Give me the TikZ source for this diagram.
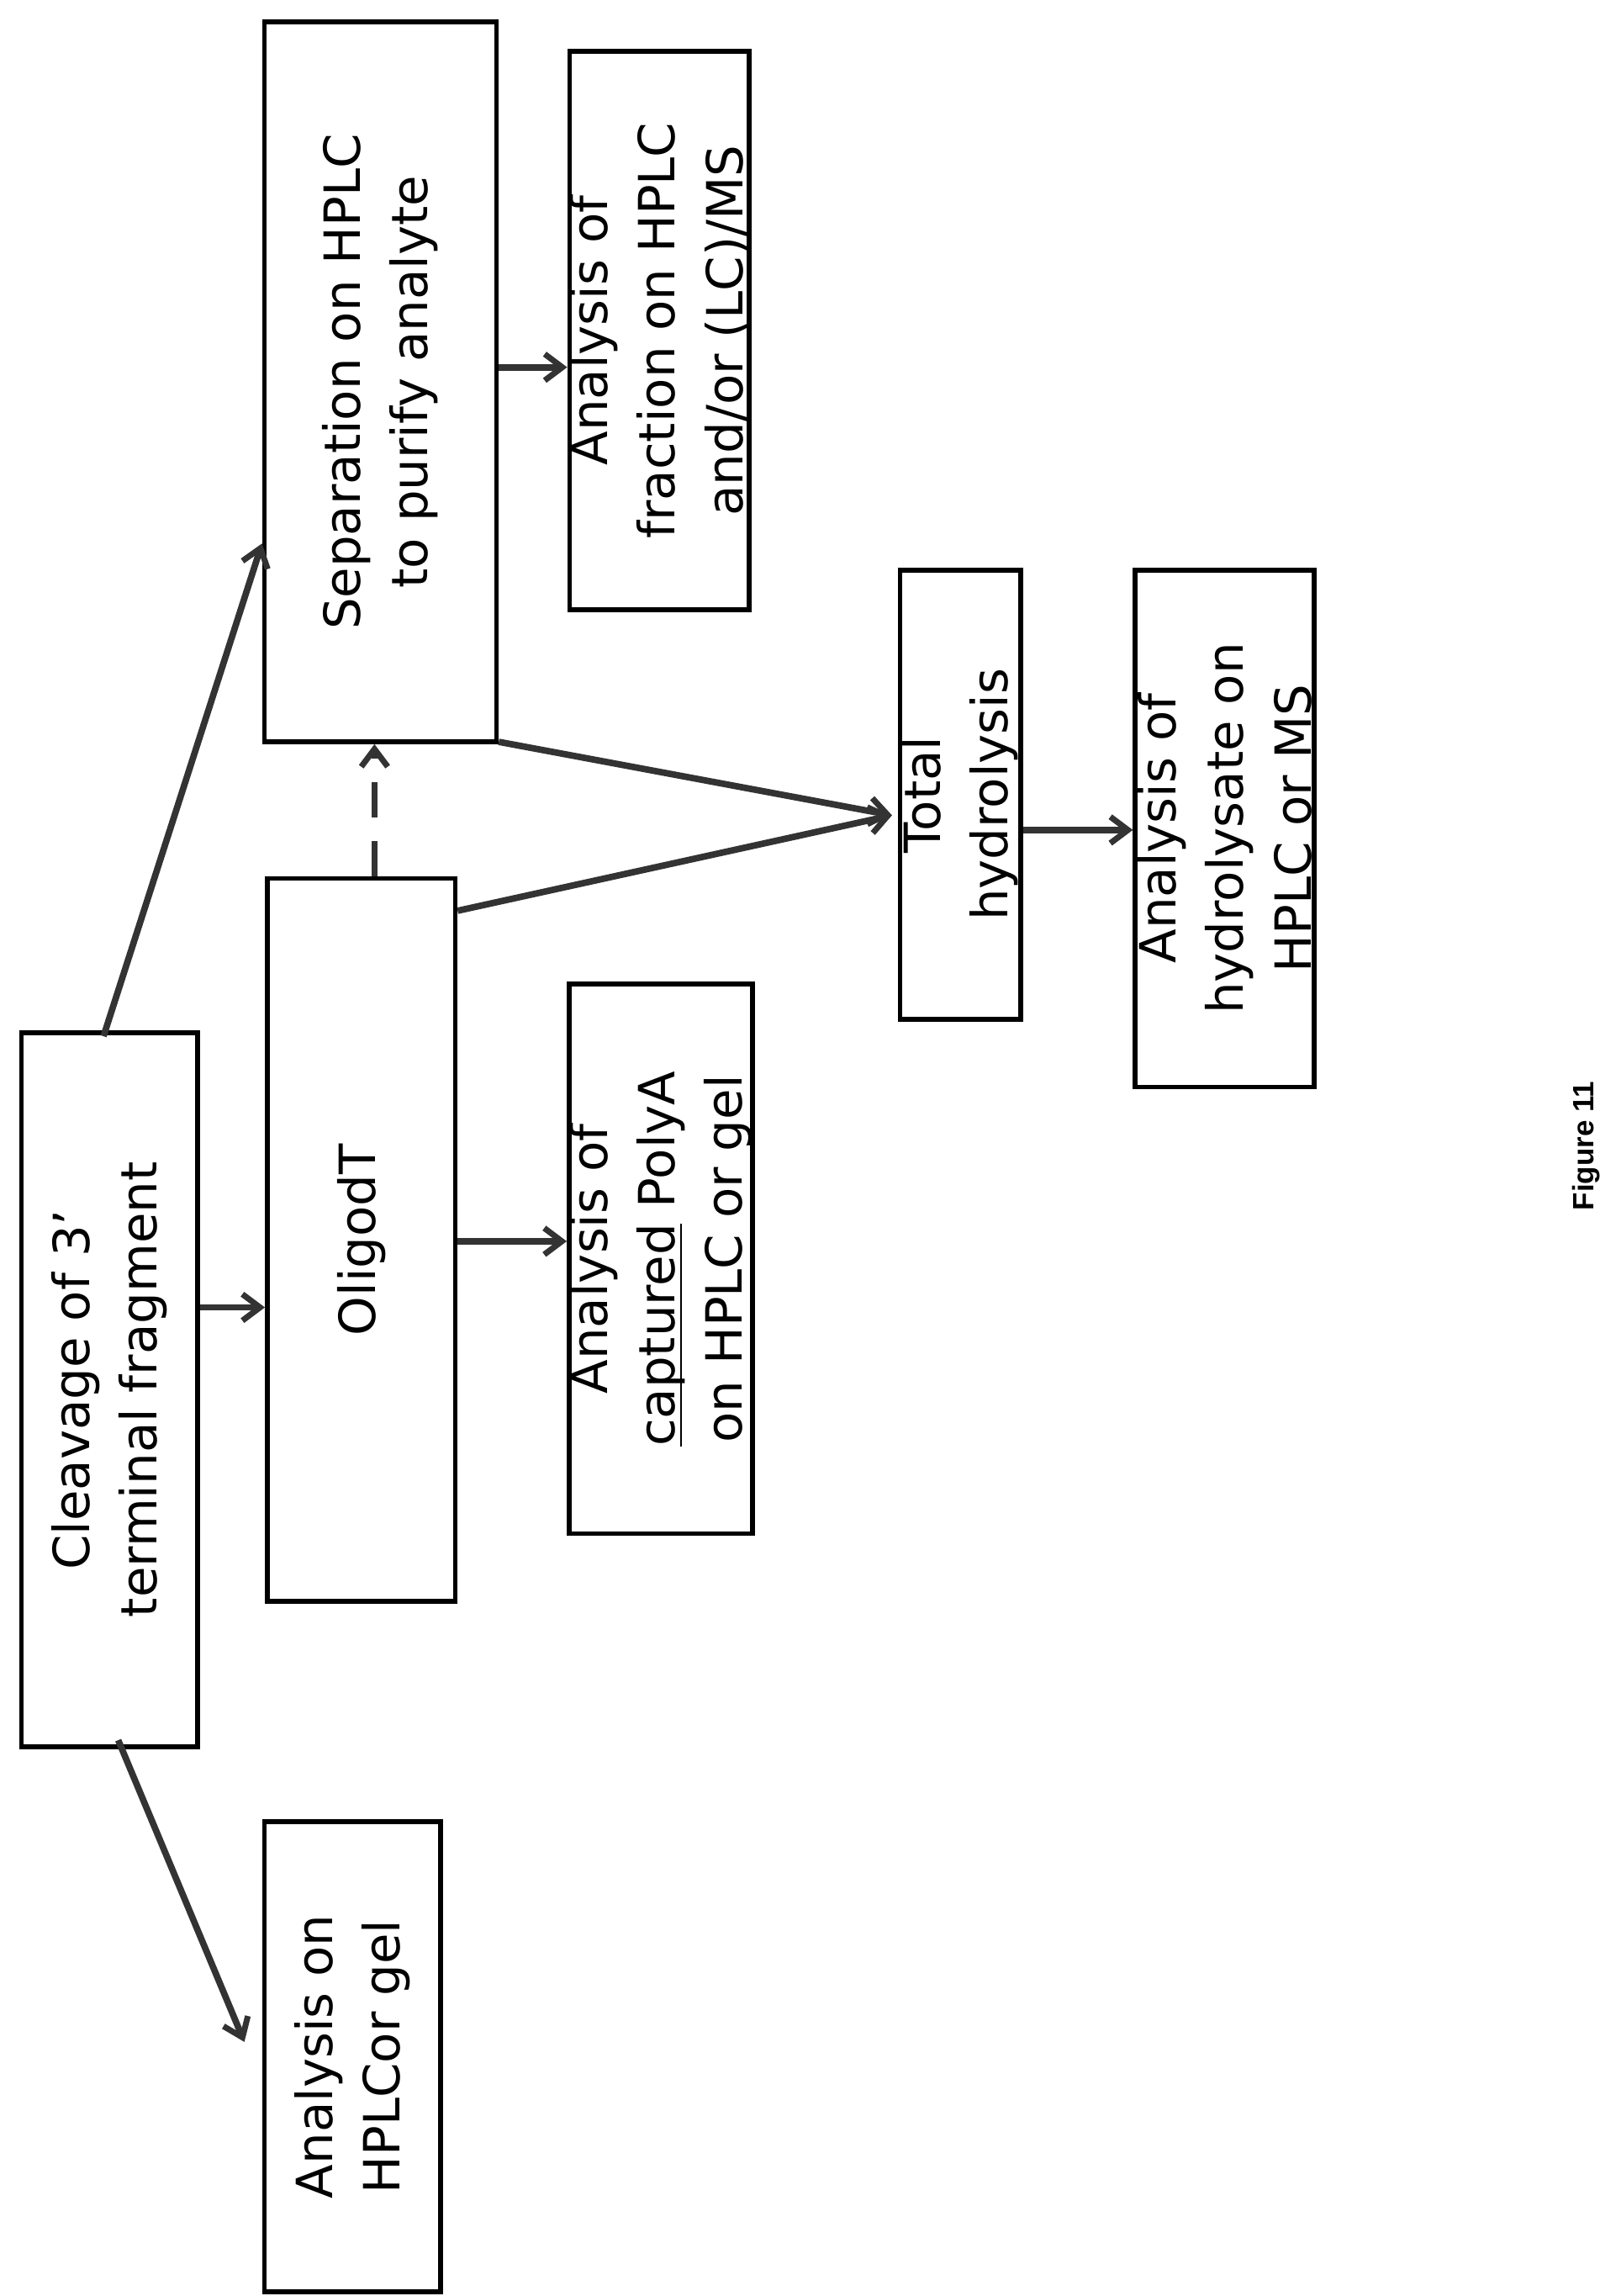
\documentclass[tikz,border=0pt]{standalone}
\usepackage{fontspec}
\setmainfont{DejaVu Sans}
\newfontfamily\figfont{Liberation Sans}
\usetikzlibrary{arrows.meta,calc}
\newcommand\ulword[1]{\setbox0\hbox{#1}\rlap{\rule[-2.5pt]{\wd0}{0.7pt}}#1}
\tikzset{
  box/.style={draw,line width=1.6pt,rotate=90,align=center,inner sep=0pt,
    font=\fontsize{17}{23}\selectfont},
  arr/.style={line width=2.2pt,draw=black!80,-{Straight Barb[length=6pt,width=9pt,line width=2pt]}}
}
\begin{document}
\begin{tikzpicture}[x=0.5pt,y=-0.5pt]
  \useasboundingbox (0,0) rectangle (1100,1563);
  % boxes
  \node[box,minimum width=243pt,minimum height=60pt] (clv) at (74.5,946) {Cleavage of 3'\\terminal fragment};
  \node[box,minimum width=160pt,minimum height=60pt] (gel) at (240,1400) {Analysis on\\HPLCor gel};
  \node[box,minimum width=246pt,minimum height=64pt] (oligo) at (246,844) {OligodT};
  \node[box,minimum width=187pt,minimum height=60pt] (capt) at (450,857) {Analysis of\\\ulword{captured} PolyA\\on HPLC or gel};
  \node[box,minimum width=245pt,minimum height=79pt] (sep) at (259,260) {Separation on HPLC\\to purify analyte};
  \node[box,minimum width=190pt,minimum height=61pt] (frac) at (449,225) {Analysis of\\fraction on HPLC\\and/or (LC)/MS};
  \node[box,minimum width=153pt,minimum height=41pt] (tot) at (654,541) {Total\\hydrolysis};
  \node[box,minimum width=176pt,minimum height=61pt] (hyd) at (834,564) {Analysis of\\hydrolysate on\\HPLC or MS};
  \node[rotate=90,font=\figfont\bfseries\fontsize{10}{12}\selectfont] (fig) at (1080,780) {Figure 11};
  % connectors
  \coordinate (c1) at ($(clv.south)+(0,-56)$);
  \draw[arr] (c1) -- (oligo.north |- c1);
  \draw[arr] ($(clv.east)+(-4,4)$) -- ($(sep.north)+(0,110)$);
  \draw[arr] ($(clv.west)+(6,-6)$) -- ($(gel.north)+(-12,-10)$);
  \coordinate (c2) at ($(oligo.south)+(0,1)$);
  \draw[arr] (c2) -- (capt.north |- c2);
  \draw[arr,dash pattern=on 12pt off 8pt] ($(oligo.east)+(9,0)$) -- ($(sep.west)+(-4,0)$);
  \draw[arr] ($(oligo.south)+(0,-224)$) -- ($(tot.north)+(-4,14)$);
  \draw[arr] ($(sep.south)+(0,245)$) -- ($(tot.north)+(-4,14)$);
  \coordinate (c3) at ($(sep.south)+(0,-10)$);
  \draw[arr] (c3) -- (frac.north |- c3);
  \coordinate (c4) at ($(tot.south)+(0,24)$);
  \draw[arr] (c4) -- (hyd.north |- c4);
\end{tikzpicture}
\end{document}
